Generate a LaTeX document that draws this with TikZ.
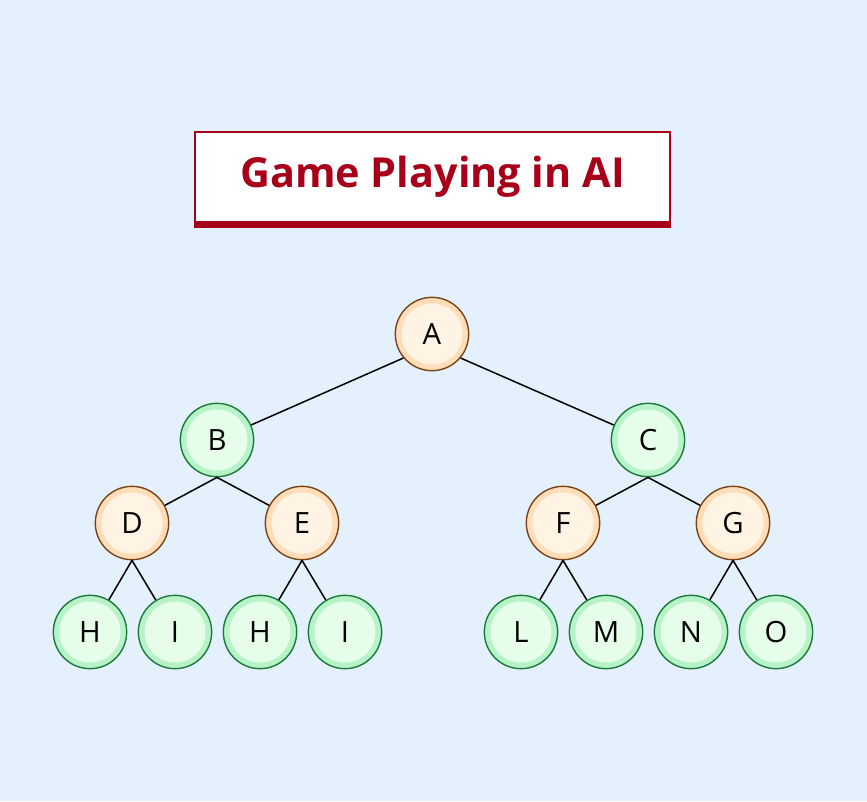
\documentclass[tikz,border=0pt]{standalone}
\usepackage{fontspec}
\setmainfont{Open Sans}
\usepackage{tikz}
\usetikzlibrary{positioning}

\definecolor{bgblue}{HTML}{E4F1FD}
\definecolor{titlered}{HTML}{A8001A}
\definecolor{maxring}{HTML}{FFDDB8}
\definecolor{maxcore}{HTML}{FFF3E3}
\definecolor{maxline}{HTML}{7A4416}
\definecolor{minring}{HTML}{B8F3C8}
\definecolor{mincore}{HTML}{E6FDEA}
\definecolor{minline}{HTML}{1B7A3A}

\begin{document}
\begin{tikzpicture}[
  x=0.03cm, y=-0.03cm,
  titlebox/.style={draw=titlered, line width=1pt, fill=white, minimum width=14.25cm, minimum height=2.7cm, font=\fontsize{35.3}{40}\selectfont\bfseries, text=titlered},
  state/.style={circle, line width=1.2pt, minimum size=2.2cm, inner sep=0pt, font=\fontsize{25}{30}\selectfont,
    path picture={\fill[#1] (path picture bounding box.center) circle (0.915cm);}},
  maxnode/.style={state=maxcore, draw=maxline, fill=maxring},
  minnode/.style={state=mincore, draw=minline, fill=minring},
  link/.style={line width=1.3pt, black}
]
  % background
  \fill[bgblue] (0,0) rectangle (867,801);

  % title
  \node[titlebox] (title) at (432.5,177) {Game Playing in AI};
  \fill[titlered] (title.south west) rectangle ([yshift=-0.17cm]title.south east);

  % tree
  \node[maxnode] (a) at (432,334) {A};
  \node[minnode] (b) at (217,440) {B};
  \node[minnode] (c) at (648,440) {C};
  \node[maxnode] (d) at (132,523) {D};
  \node[maxnode] (e) at (302,523) {E};
  \node[maxnode] (f) at (563,523) {F};
  \node[maxnode] (g) at (733,523) {G};
  \node[minnode] (dh) at (90,632) {H};
  \node[minnode] (di) at (175,632) {I};
  \node[minnode] (eh) at (260,632) {H};
  \node[minnode] (ei) at (345,632) {I};
  \node[minnode] (fl) at (521,632) {L};
  \node[minnode] (fm) at (606,632) {M};
  \node[minnode] (gn) at (691,632) {N};
  \node[minnode] (go) at (776,632) {O};

  \draw[link] (a.-140) -- (b);
  \draw[link] (a.-40) -- (c);
  \draw[link] (b.south) -- (d);
  \draw[link] (b.south) -- (e);
  \draw[link] (c.south) -- (f);
  \draw[link] (c.south) -- (g);
  \draw[link] (d.south) -- (dh);
  \draw[link] (d.south) -- (di);
  \draw[link] (e.south) -- (eh);
  \draw[link] (e.south) -- (ei);
  \draw[link] (f.south) -- (fl);
  \draw[link] (f.south) -- (fm);
  \draw[link] (g.south) -- (gn);
  \draw[link] (g.south) -- (go);
\end{tikzpicture}
\end{document}
